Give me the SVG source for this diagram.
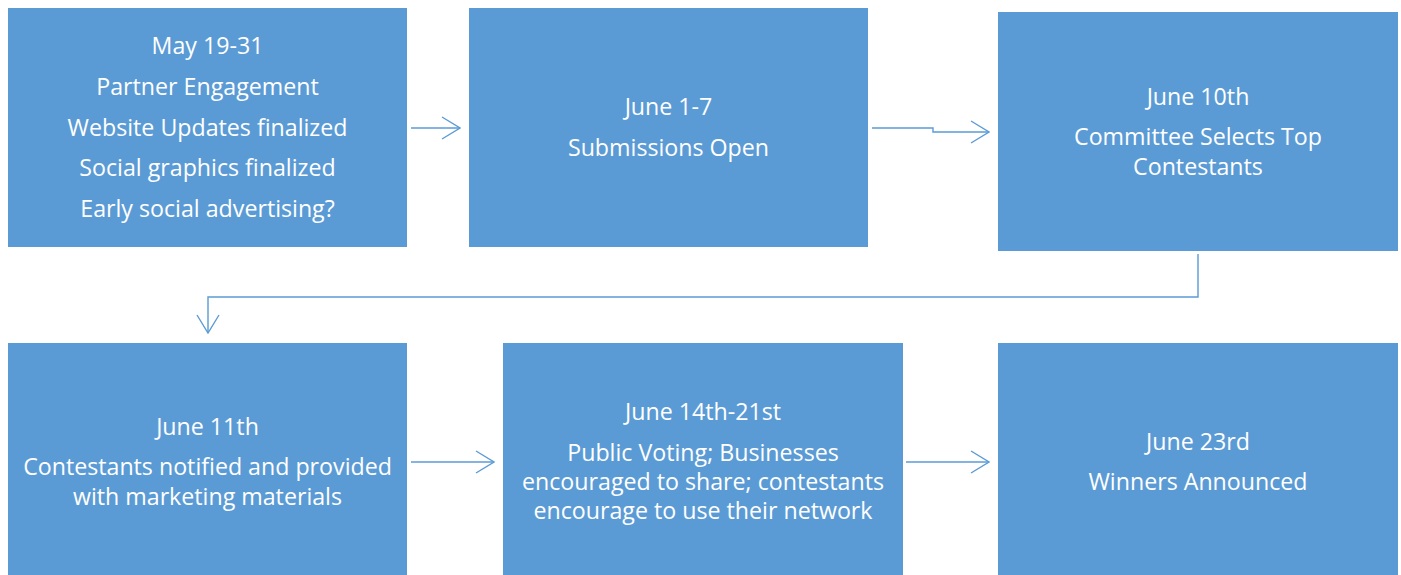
<svg xmlns="http://www.w3.org/2000/svg" width="1401" height="575" viewBox="0 0 1401 575">
  <style>
    .box { fill: #5B9BD5; }
    .lbl { fill: #FFFFFF; font-family: "Open Sans", "Liberation Sans", sans-serif; font-size: 23.2px; text-anchor: middle; }
    .conn { fill: none; stroke: #5B9BD5; stroke-width: 1.4; }
  </style>
  <defs>
    <marker id="chev" viewBox="0 0 20 24" refX="19" refY="12" markerWidth="20" markerHeight="24" markerUnits="userSpaceOnUse" orient="auto">
      <path d="M1,1 L19,12 L1,23" fill="none" stroke="#5B9BD5" stroke-width="1.4"/>
    </marker>
  </defs>

  <g id="connectors">
    <path class="conn" d="M411,128 H460" marker-end="url(#chev)"/>
    <path class="conn" d="M872,128 H933 V132 H989" marker-end="url(#chev)"/>
    <path class="conn" d="M1198,254 V297 H208 V333" marker-end="url(#chev)"/>
    <path class="conn" d="M411,462 H494" marker-end="url(#chev)"/>
    <path class="conn" d="M906,462 H989" marker-end="url(#chev)"/>
  </g>

  <g id="node-may">
    <rect class="box" x="8" y="8" width="399" height="239"/>
    <text class="lbl" x="207.5" y="54">May 19-31</text>
    <text class="lbl" x="207.5" y="95">Partner Engagement</text>
    <text class="lbl" x="207.5" y="136">Website Updates finalized</text>
    <text class="lbl" x="207.5" y="176">Social graphics finalized</text>
    <text class="lbl" x="207.5" y="217">Early social advertising?</text>
  </g>

  <g id="node-june1">
    <rect class="box" x="469" y="8" width="399" height="239"/>
    <text class="lbl" x="668.5" y="115">June 1-7</text>
    <text class="lbl" x="668.5" y="156">Submissions Open</text>
  </g>

  <g id="node-june10">
    <rect class="box" x="998" y="12" width="400" height="239"/>
    <text class="lbl" x="1198" y="105">June 10th</text>
    <text class="lbl" x="1198" y="145">Committee Selects Top</text>
    <text class="lbl" x="1198" y="175">Contestants</text>
  </g>

  <g id="node-june11">
    <rect class="box" x="8" y="343" width="399" height="232"/>
    <text class="lbl" x="207.5" y="435">June 11th</text>
    <text class="lbl" x="207.5" y="475">Contestants notified and provided</text>
    <text class="lbl" x="207.5" y="505">with marketing materials</text>
  </g>

  <g id="node-june14">
    <rect class="box" x="503" y="343" width="400" height="232"/>
    <text class="lbl" x="703" y="420">June 14th-21st</text>
    <text class="lbl" x="703" y="461">Public Voting; Businesses</text>
    <text class="lbl" x="703" y="490">encouraged to share; contestants</text>
    <text class="lbl" x="703" y="519">encourage to use their network</text>
  </g>

  <g id="node-june23">
    <rect class="box" x="998" y="343" width="400" height="232"/>
    <text class="lbl" x="1198" y="450">June 23rd</text>
    <text class="lbl" x="1198" y="490">Winners Announced</text>
  </g>
</svg>
